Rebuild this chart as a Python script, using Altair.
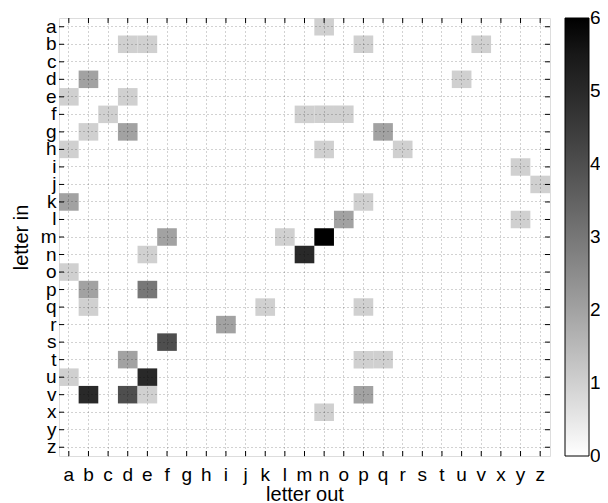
import altair as alt
import pandas as pd

letters = list("abcdefghijklmnopqrstuvxyz")

letter_in = ["a", "b", "b", "b", "b", "d", "d", "e", "e", "f", "f", "f", "f",
             "g", "g", "g", "h", "h", "h", "i", "j", "k", "k", "l", "l",
             "m", "m", "m", "n", "n", "o", "p", "p", "q", "q", "q", "r", "s",
             "t", "t", "t", "u", "u", "v", "v", "v", "v", "x"]
letter_out = ["n", "d", "e", "p", "v", "b", "u", "a", "d", "c", "m", "n", "o",
              "b", "d", "q", "a", "n", "r", "y", "z", "a", "p", "o", "y",
              "f", "l", "n", "e", "m", "a", "b", "e", "b", "k", "p", "i", "f",
              "d", "p", "q", "a", "e", "b", "d", "e", "p", "n"]
counts = [1, 1, 1, 1, 1, 2, 1, 1, 1, 1, 1, 1, 1,
          1, 2, 2, 1, 1, 1, 1, 1, 2, 1, 2, 1,
          2, 1, 6, 1, 5, 1, 2, 3, 1, 1, 1, 2, 4,
          2, 1, 1, 1, 5, 5, 4, 1, 2, 1]
# colorbar tick values (ends nudged inward so the end labels centre on the ends)
cbar_values = [0.0001, 1, 2, 3, 4, 5, 5.9999]

W, H = 491, 438
FONT = "Liberation Sans"
FS = 19
TFS = 20

cells = pd.DataFrame({"in": letter_in, "out": letter_out, "count": counts})
ticks = pd.DataFrame({"letter": letters})

xscale = alt.Scale(domain=letters, paddingInner=0, paddingOuter=0)
yscale = alt.Scale(domain=letters, paddingInner=0, paddingOuter=0)

axis_common = dict(bandPosition=0.5, grid=True, ticks=False, domain=False,
                   gridColor="#000000", gridDash=[1, 3], gridWidth=0.6,
                   gridOpacity=0.6, labelFont=FONT, labelFontSize=FS,
                   labelColor="#000000", titleFont=FONT, titleFontSize=TFS,
                   titleFontWeight="normal", titleColor="#000000",
                   labelAngle=0, zindex=1)

heat = alt.Chart(cells).mark_rect().encode(
    x=alt.X("out:N", scale=xscale, sort=letters,
            axis=alt.Axis(title="letter out", labelPadding=9, titlePadding=0,
                          **axis_common)),
    y=alt.Y("in:N", scale=yscale, sort=letters,
            axis=alt.Axis(title="letter in", labelPadding=3, titlePadding=9,
                          **axis_common)),
    color=alt.Color("count:Q",
                    scale=alt.Scale(domain=[0, 6], range=["#ffffff", "#000000"]),
                    legend=alt.Legend(title=None, orient="none", legendX=W + 15,
                                      legendY=0, gradientLength=H,
                                      gradientThickness=24, direction="vertical",
                                      gradientStrokeColor="#000000",
                                      gradientStrokeWidth=1,
                                      values=cbar_values, format=".0f",
                                      labelOverlap=False,
                                      labelFont=FONT, labelFontSize=FS,
                                      labelColor="#000000", labelOffset=1,
                                      padding=0)),
)

tk = alt.Chart(ticks)
bottom_t = tk.mark_rule(color="black", strokeWidth=1).encode(
    x=alt.X("letter:N", scale=xscale, sort=letters), y=alt.value(H), y2=alt.value(H - 5))
top_t = tk.mark_rule(color="black", strokeWidth=1).encode(
    x=alt.X("letter:N", scale=xscale, sort=letters), y=alt.value(0), y2=alt.value(5))
left_t = tk.mark_rule(color="black", strokeWidth=1).encode(
    y=alt.Y("letter:N", scale=yscale, sort=letters), x=alt.value(0), x2=alt.value(5))
right_t = tk.mark_rule(color="black", strokeWidth=1).encode(
    y=alt.Y("letter:N", scale=yscale, sort=letters), x=alt.value(W), x2=alt.value(W - 5))

chart = alt.layer(heat, bottom_t, top_t, left_t, right_t).properties(
    width=W, height=H,
    autosize=alt.AutoSizeParams(type="none"),
    padding={"left": 51, "top": 10, "right": 50, "bottom": 53},
).configure_view(stroke="#000000", strokeWidth=1.2).configure(background="white")

chart.save("out.html", embed_options={"renderer": "svg", "actions": False})
